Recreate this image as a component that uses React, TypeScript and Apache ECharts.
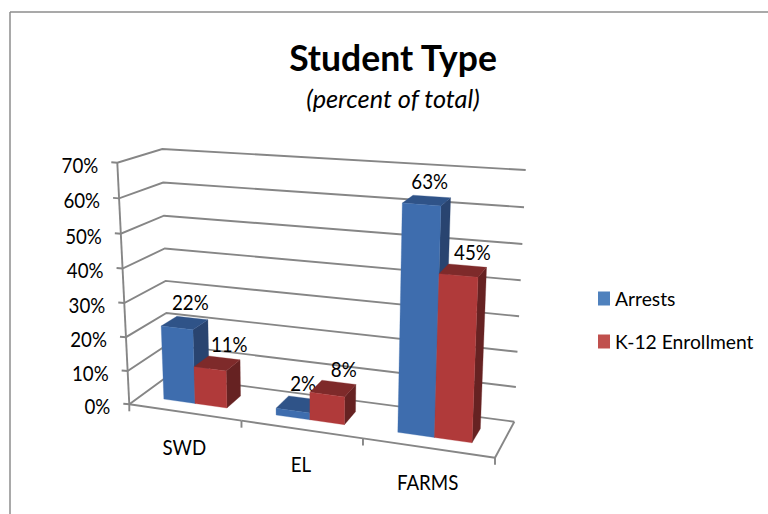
import React, { useEffect, useRef } from "react";
import * as echarts from "echarts";

const titleText = "Student Type";
const subtitleText = "(percent of total)";
const categories = ["SWD", "EL", "FARMS"];
const arrests = [22, 2, 63];
const enrollment = [11, 8, 45];
const yTicks = [0, 10, 20, 30, 40, 50, 60, 70];

const FONT = "Lato";
const GRID = { left: 100, top: 100, width: 300, height: 300 };
const LINE = "#868686";

// View of the 3D box: [x, y] of each corner, named front/back, left/right, bottom/top
const FLB = [129.3, 404.3], FLT = [117.3, 162.7];
const BLB = [168, 376], BLT = [162.3, 149];
const FRB = [495, 457.7], FRT = [506, 189.7];
const BRB = [514.3, 421.7], BRT = [525.7, 170];
const U_R = 1.13, V_R = 1.04;

const mix = (a: number[], b: number[], t: number) => [a[0] + (b[0] - a[0]) * t, a[1] + (b[1] - a[1]) * t];
const warp = (t: number, r: number) => (t <= 0 ? 0 : t / (t + (1 - t) * r));

function project(u: number, v: number, w: number) {
  const uu = warp(u, U_R), vv = warp(v, V_R);
  const fb = mix(FLB, FRB, uu), ft = mix(FLT, FRT, uu);
  const bb = mix(BLB, BRB, uu), bt = mix(BLT, BRT, uu);
  return mix(mix(fb, ft, vv), mix(bb, bt, vv), w);
}

const toUV = (p: number[]) => [(p[0] - GRID.left) / GRID.width, (GRID.top + GRID.height - p[1]) / GRID.height];

const BAR_U = 1 / 3 / 3.5; // gap width 150%
const W_FRONT = 0.3, W_BACK = 0.7;

const poly = (points: number[][], fill: string) => ({ type: "polygon", shape: { points }, style: { fill, stroke: fill, lineWidth: 0.3 } });
const line = (points: number[][], lineWidth = 1.9) => ({ type: "polyline", shape: { points }, style: { stroke: LINE, lineWidth, fill: "none" } });
const text = (s: string, x: number, y: number, align: string) => ({
  type: "text",
  x,
  y,
  scaleX: 0.9,
  style: { text: s, x: 0, y: 0, align, verticalAlign: "middle", fontFamily: FONT, fontSize: 20.8, fill: "#000" },
});

function barSeries(
  name: string,
  values: number[],
  slot: number,
  legendColor: string,
  face: string,
  top: string,
  side: string,
  labelDx: number,
  labelDy: number
) {
  return {
    type: "custom",
    name,
    itemStyle: { color: legendColor },
    data: values.map((v, i) => [i, v]),
    silent: true,
    renderItem: (_: any, api: any) => {
      const i = api.value(0), val = api.value(1);
      const [uc, v] = toUV(api.coord([i, val]));
      const u0 = uc + (slot - 1) * BAR_U, u1 = u0 + BAR_U;
      const a = project(u0, 0, W_FRONT), b = project(u1, 0, W_FRONT), c = project(u1, v, W_FRONT), d = project(u0, v, W_FRONT);
      const e = project(u1, 0, W_BACK), f = project(u1, v, W_BACK), g = project(u0, v, W_BACK);
      const lp = project((u0 + u1) / 2, v, W_BACK);
      return {
        type: "group",
        children: [
          poly([b, e, f, c], side),
          poly([d, c, f, g], top),
          poly([a, b, c, d], face),
          text(`${val}%`, lp[0] + labelDx, lp[1] + labelDy, "center"),
        ],
      };
    },
  };
}

export default function App() {
  const ref = useRef<HTMLDivElement>(null);
  useEffect(() => {
    document.body.style.margin = "0";
    const chart = echarts.init(ref.current!, undefined, { renderer: "svg" });
    chart.setOption({
      animation: false,
      backgroundColor: "#fff",
      title: {
        text: titleText,
        subtext: subtitleText,
        left: 393,
        top: 39,
        padding: 0,
        textAlign: "center",
        itemGap: 10,
        textStyle: { fontFamily: FONT, fontWeight: "bold", fontSize: 35.5, color: "#000" },
        subtextStyle: { fontFamily: FONT, fontStyle: "italic", fontSize: 25.3, color: "#000" },
      },
      legend: {
        orient: "vertical",
        left: 593,
        top: 284,
        icon: "rect",
        itemWidth: 12,
        itemHeight: 14,
        itemGap: 24,
        data: ["Arrests", "K-12 Enrollment"],
        textStyle: { fontFamily: FONT, fontSize: 19.3, color: "#000", padding: [0, 0, 0, 0] },
      },
      grid: { ...GRID, show: false },
      xAxis: { type: "category", data: categories, show: false },
      yAxis: { type: "value", min: 0, max: 70, interval: 10, show: false },
      graphic: [
        { type: "line", shape: { x1: 10, y1: 12, x2: 768, y2: 12 }, style: { stroke: "#8c8c8c", lineWidth: 1.5 } },
        { type: "line", shape: { x1: 10, y1: 12, x2: 10, y2: 514 }, style: { stroke: "#8c8c8c", lineWidth: 1.5 } },
      ],
      series: [
        {
          type: "custom",
          name: "gridlines",
          silent: true,
          data: yTicks.map((t) => [0, t]),
          renderItem: (_: any, api: any) => {
            const val = api.value(1);
            const [, v] = toUV(api.coord([0, val]));
            const f = project(0, v, 0), bl = project(0, v, 1), br = project(1, v, 1);
            return {
              type: "group",
              children: [
                line([[f[0] - 6, f[1] - 0.5], f, bl, br]),
                text(`${val}%`, f[0] - 19, f[1] + 1.5, "right"),
              ],
            };
          },
        },
        {
          type: "custom",
          name: "floor",
          silent: true,
          data: categories.map((_, i) => [i, 0]),
          renderItem: (_: any, api: any) => {
            const i = api.value(0);
            const [uc] = toUV(api.coord([i, 0]));
            const half = 1 / 6;
            const l = project(uc - half, 0, 0), r = project(uc + half, 0, 0), m = project(uc, 0, 0);
            const children: any[] = [line([l, r]), line([[l[0], l[1]], [l[0], l[1] + 7]])];
            if (i === categories.length - 1) {
              const br = project(1, 0, 1);
              children.push(line([[r[0], r[1]], [r[0], r[1] + 7]]), line([r, br]));
            }
            if (i === 0) {
              children.push(line([project(0, 0, 0), project(0, 1, 0)]));
            }
            children.push(text(categories[i], m[0], m[1] + 34, "center"));
            return { type: "group", children };
          },
        },
        barSeries("Arrests", arrests, 0, "#4F81BD", "#3E6DAE", "#2F5388", "#294470", -2, -16),
        barSeries("K-12 Enrollment", enrollment, 1, "#C0504D", "#B03A3A", "#7E2A2A", "#662222", 5, -14),
      ],
    });
    return () => chart.dispose();
  }, []);
  return <div ref={ref} style={{ width: 768, height: 514 }} />;
}
